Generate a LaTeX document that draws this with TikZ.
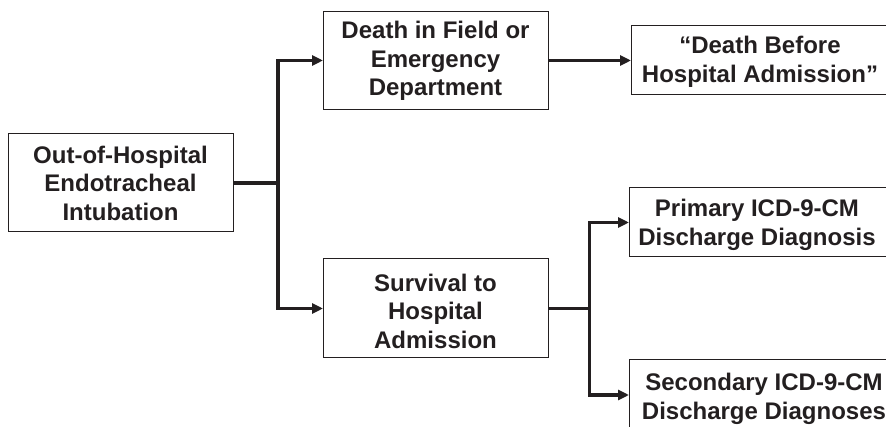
\documentclass[tikz,border=0pt]{standalone}
\usepackage{fontspec}
\setmainfont{Liberation Sans}
\usetikzlibrary{arrows.meta}
\definecolor{ink}{HTML}{231F20}
\tikzset{
  boxnode/.style={draw=ink, line width=1pt, rectangle, inner sep=0pt, outer sep=0pt},
  txt/.style={text=ink, align=center, inner sep=0pt, font=\fontsize{24}{28.5}\selectfont\bfseries},
  conn/.style={draw=ink, line width=3.2pt, line join=miter},
  arr/.style={conn, -{Triangle[length=11pt,width=10pt]}}
}
\begin{document}
\begin{tikzpicture}[x=1pt,y=-1pt]
\useasboundingbox (0,0) rectangle (886,427);
\clip (0,0) rectangle (886,427);
% boxes
\node[boxnode, minimum width=225, minimum height=98] (b1) at (120.5,183) {};
\node[boxnode, minimum width=225, minimum height=98] (b2) at (435.5,60.5) {};
\node[boxnode, minimum width=258, minimum height=69] (b3) at (760,60.5) {};
\node[boxnode, minimum width=225, minimum height=99] (b4) at (435.5,308.5) {};
\node[boxnode, minimum width=258, minimum height=69] (b5) at (758,222.5) {};
\node[boxnode, minimum width=258, minimum height=70] (b6) at (758,395) {};
% texts
\node[txt] (t1) at (120.5,183) {Out-of-Hospital\\Endotracheal\\Intubation};
\node[txt] (t2) at (435.5,61) {Death in Field or\\Emergency\\Department};
\node[txt] (t3) at (760,62) {“Death Before\\Hospital Admission”};
\node[txt] (t4) at (435.5,311) {Survival to\\Hospital\\Admission};
\node[txt] (t5) at (757,225) {Primary ICD-9-CM\\Discharge Diagnosis};
\node[txt] (t6) at (764,399) {Secondary ICD-9-CM\\Discharge Diagnoses};
% junctions
\coordinate (j1) at (278,183);
\coordinate (j2) at (589.5,308.5);
% connectors
\draw[conn] (b1.east) -- (j1);
\draw[arr] (j1) |- (b2.west);
\draw[arr] (j1) |- (b4.west);
\draw[arr] (b2.east) -- (b3.west);
\draw[conn] (b4.east) -- (j2);
\draw[arr] (j2) |- (b5.west);
\draw[arr] (j2) |- (b6.west);
\end{tikzpicture}
\end{document}
